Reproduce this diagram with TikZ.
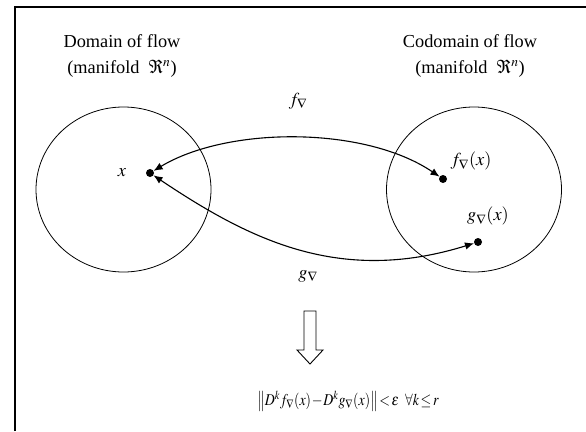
\documentclass[tikz,border=0pt]{standalone}
\usepackage{graphicx}
\usepackage{mathptmx}
\usepackage[no-math]{fontspec}
\setmainfont{Liberation Serif}
\usetikzlibrary{arrows.meta,shapes.geometric}
\begin{document}
\begin{tikzpicture}[x=1pt,y=-1pt,
  lbl/.style={font=\fontsize{18.3}{26}\selectfont, inner sep=0pt},
  eqlbl/.style={font=\fontsize{16.5}{20}\selectfont, inner sep=0pt},
  dotnode/.style={circle, fill=black, inner sep=0pt, minimum size=8pt},
  conn/.style={line width=1.1pt, {Latex[length=9pt,width=7.5pt]}-{Latex[length=9pt,width=7.5pt]}},
  ring/.style={draw, ellipse, line width=0.8pt, minimum width=175pt, minimum height=165pt, inner sep=0pt}
]
\useasboundingbox (0,0) rectangle (586,431);
\draw[line width=2.2pt] (15,431) -- (15,7) -- (586,7);
% manifolds
\node[ring] (dom) at (123.5,189.5) {};
\node[ring] (cod) at (474,189.5) {};
% titles
\node[lbl, align=center] (domt) at (122,56) {Domain of flow\\(manifold\ \ $\Re^n$)};
\node[lbl, align=center] (codt) at (470,56) {Codomain of flow\\(manifold\ \ $\Re^n$)};
% points
\node[dotnode] (x) at (150,173) {};
\node[dotnode] (fx) at (443,179) {};
\node[dotnode] (gx) at (478,242) {};
% labels
\node[lbl] (xl) at (122,173) {$x$};
\node[lbl] (fl) at (298,101) {$f_\nabla$};
\node[lbl] (gl) at (308,276) {$g_\nabla$};
\node[lbl] (fxl) at (471,161) {$f_\nabla(x)$};
\node[lbl] (gxl) at (488,216) {$g_\nabla(x)$};
% maps
\draw[conn] (x) .. controls (228,126) and (365,126) .. (fx);
\draw[conn] (x) .. controls (250,240) and (340,285) .. (gx);
% implication arrow
\draw[line width=0.9pt, fill=white] (304,311) -- (316,311) -- (316,350) -- (323,350) -- (310,364) -- (297,350) -- (304,350) -- cycle;
% estimate
\node[eqlbl] (eq) at (348,401) {\scalebox{0.84}[1]{\thickmuskip=2mu\medmuskip=1mu$\left\| D^k f_\nabla(x) - D^k g_\nabla(x)\right\| < \varepsilon \;\;\;\; \forall k \le r$}};
\end{tikzpicture}
\end{document}
